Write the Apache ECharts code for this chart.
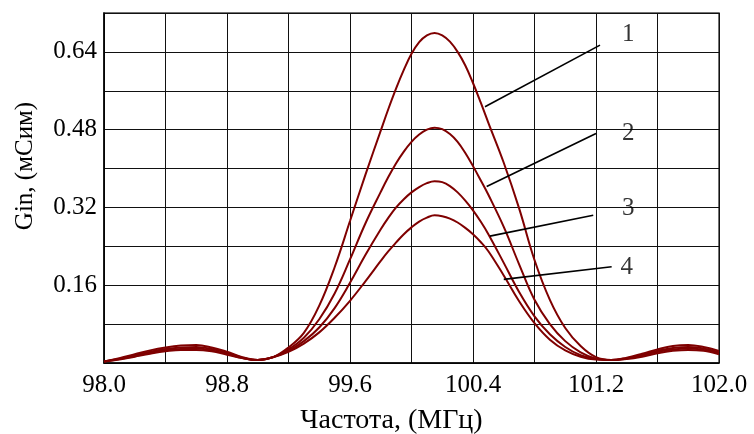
<!DOCTYPE html>
<html>
<head>
<meta charset="utf-8">
<script src="https://cdn.jsdelivr.net/npm/echarts@6/dist/echarts.min.js"></script>
<style>html,body{margin:0;padding:0;background:#fff}#c{width:754px;height:434px}</style>
</head>
<body>
<div id="c"></div>
<script>
var freq = [98.0,98.1,98.2,98.3,98.4,98.5,98.6,98.7,98.8,98.9,99.0,99.1,99.2,99.3,99.4,99.5,99.6,99.7,
  99.8,99.85,99.9,99.95,100.0,100.05,100.1,100.15,100.2,100.25,100.3,100.35,100.4,100.45,100.5,
  100.6,100.7,100.8,100.9,101.0,101.1,101.2,101.3,101.4,101.5,101.6,101.7,101.8,101.9,102.0];
var curve1 = [0.003,0.010,0.018,0.026,0.032,0.036,0.037,0.032,0.023,0.012,0.006,0.012,0.032,0.062,0.118,0.197,0.292,0.387,
  0.478,0.523,0.565,0.603,0.636,0.660,0.674,0.679,0.674,0.661,0.640,0.612,0.576,0.536,0.494,
  0.412,0.318,0.212,0.130,0.072,0.035,0.012,0.006,0.011,0.019,0.028,0.035,0.037,0.033,0.025];
var curve2 = [0.003,0.009,0.016,0.023,0.029,0.032,0.033,0.029,0.021,0.011,0.006,0.012,0.028,0.052,0.090,0.143,0.213,0.287,
  0.352,0.383,0.411,0.435,0.455,0.470,0.480,0.484,0.481,0.471,0.455,0.432,0.405,0.376,0.346,
  0.280,0.203,0.130,0.080,0.045,0.022,0.009,0.006,0.010,0.017,0.025,0.031,0.033,0.030,0.022];
var curve3 = [0.003,0.008,0.014,0.021,0.026,0.029,0.030,0.026,0.019,0.010,0.006,0.012,0.025,0.045,0.073,0.113,0.165,0.222,
  0.275,0.299,0.320,0.337,0.351,0.362,0.370,0.374,0.372,0.364,0.351,0.334,0.314,0.291,0.265,
  0.206,0.146,0.096,0.059,0.033,0.016,0.008,0.006,0.009,0.015,0.023,0.028,0.030,0.027,0.020];
var curve4 = [0.003,0.007,0.013,0.019,0.024,0.027,0.027,0.024,0.017,0.010,0.006,0.012,0.023,0.040,0.063,0.093,0.128,0.168,
  0.210,0.230,0.248,0.265,0.279,0.291,0.299,0.304,0.302,0.297,0.289,0.278,0.265,0.249,0.230,
  0.180,0.127,0.082,0.048,0.026,0.013,0.007,0.006,0.008,0.013,0.020,0.025,0.027,0.025,0.018];
var curveNames = ['1','2','3','4'];
// leader lines: [x1,y1,x2,y2] in data units; label positions
var leaderLines = [[100.478,0.527,101.226,0.654],[100.489,0.363,101.20,0.472],[100.51,0.261,101.182,0.304],[100.60,0.172,101.302,0.198]];
var labelPos = [[101.41,0.675],[101.41,0.473],[101.41,0.317],[101.40,0.197]];

function pairs(ys){ return freq.map(function(x,i){ return [x, ys[i]]; }); }
var curves = [curve1,curve2,curve3,curve4];
var series = [];
curves.forEach(function(c){
  series.push({type:'line', data:pairs(c), smooth:0.4, showSymbol:false, silent:true,
    lineStyle:{color:'#7f0000', width:2}, z:3});
});
leaderLines.forEach(function(l){
  series.push({type:'line', data:[[l[0],l[1]],[l[2],l[3]]], showSymbol:false, silent:true,
    lineStyle:{color:'#000', width:1.6}, z:4});
});
series.push({type:'scatter', symbolSize:0, silent:true, z:5,
  data: labelPos.map(function(p,i){ return {value:p, name:curveNames[i]}; }),
  label:{show:true, position:'inside', formatter:function(p){return p.name;},
    fontFamily:'Liberation Serif', fontSize:25, color:'#000'}});

var FONT = 'Liberation Serif';
var chart = echarts.init(document.getElementById('c'), null, {renderer:'canvas'});
chart.setOption({
  animation:false,
  backgroundColor:'#fff',
  grid:{left:104, right:35, top:13, bottom:71, containLabel:false, outerBoundsMode:'none',
    show:true, borderColor:'#444', borderWidth:1.5},
  xAxis:{type:'value', min:98, max:102, interval:0.4,
    name:'Частота, (МГц)', nameLocation:'middle', nameGap:44,
    nameTextStyle:{fontFamily:FONT, fontSize:28, color:'#000', padding:[0,40,0,0]},
    axisLine:{show:true, lineStyle:{color:'#000', width:1.5}},
    axisTick:{show:false},
    splitLine:{show:true, lineStyle:{color:'#111', width:1}},
    axisLabel:{fontFamily:FONT, fontSize:25, color:'#000', margin:10,
      formatter:function(v){ var k=Math.round((v-98)/0.4); return k%2===0 ? v.toFixed(1) : ''; }}
  },
  yAxis:{type:'value', min:0, max:0.72, interval:0.08,
    name:'Gin, (мСим)', nameLocation:'middle', nameGap:66, nameRotate:90,
    nameTextStyle:{fontFamily:FONT, fontSize:25, color:'#000', padding:[0,0,0,44]},
    axisLine:{show:true, lineStyle:{color:'#000', width:1.5}},
    axisTick:{show:false},
    splitLine:{show:true, lineStyle:{color:'#111', width:1}},
    axisLabel:{fontFamily:FONT, fontSize:25, color:'#000', margin:7,
      formatter:function(v){ var k=Math.round(v/0.08); return (k%2===0 && k>0 && k<9) ? v.toFixed(2) : ''; }}
  },
  series:series
});
</script>
</body>
</html>
